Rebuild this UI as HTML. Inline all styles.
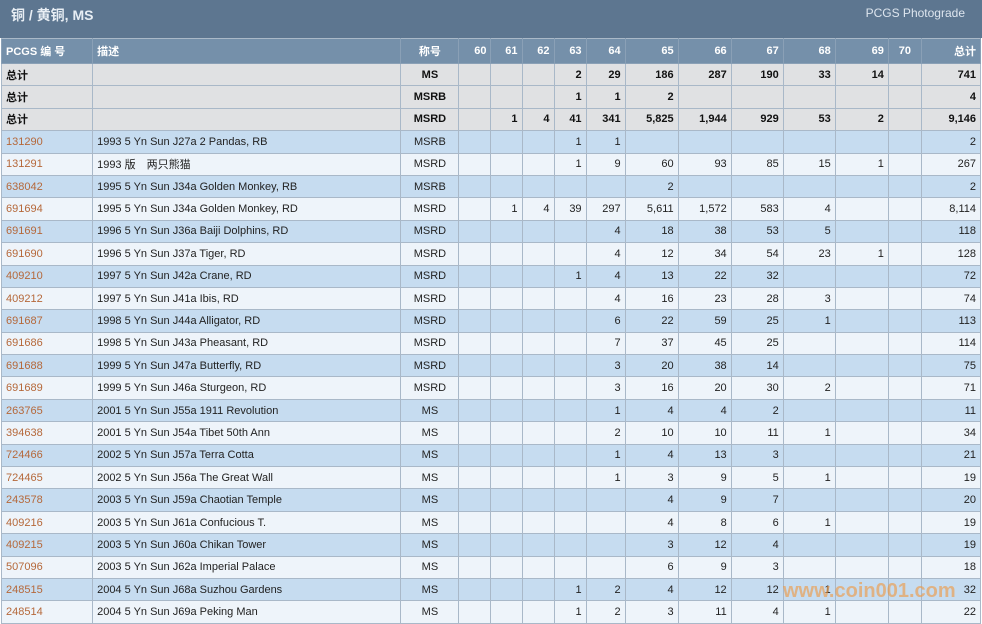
<!DOCTYPE html>
<html><head><meta charset="utf-8"><style>
*{margin:0;padding:0;box-sizing:border-box}
body{width:982px;height:624px;overflow:hidden;background:#fff;font-family:"Liberation Sans","Noto Sans CJK SC",sans-serif;font-size:11px;color:#222;position:relative}
.top{position:absolute;left:0;top:0;width:982px;height:38px;background:#5d7690}
.top .t{position:absolute;left:11px;top:5px;color:#e8eef4;font-size:14px;font-weight:bold}
.top .r{position:absolute;right:17px;top:6px;color:#dde5ee;font-size:12px}
table{position:absolute;left:1px;top:38px;border-collapse:collapse;table-layout:fixed;width:980px}
td,th{border:1px solid #a9b8c8;padding:0 4px;white-space:nowrap;overflow:hidden}
th{background:#7590aa;color:#fff;font-weight:bold;height:25px;text-align:right;border-color:#8aa0b6;border-top:1px solid #aab9c8}
tr{height:22.4px}
td{text-align:right}
td.c{text-align:center}
td.l,th.l{text-align:left}
th.c{text-align:center}
tr.tot td{background:#e0e1e3;font-weight:bold;color:#111}
tr.o td{background:#c6dcf0}
tr.e td{background:#eef4fa}
tr.o td,tr.e td{color:#222}
tr.o td.id,tr.e td.id{color:#b5683a;text-align:left}
.wm{position:absolute;left:783px;top:580px;font-size:20px;font-weight:bold;color:rgba(240,150,60,.6)}
</style></head><body>
<div class="top"><span class="t">铜 / 黄铜, MS</span><span class="r">PCGS Photograde</span></div>
<table>
<colgroup><col style="width:91px"><col style="width:308px"><col style="width:58px"><col style="width:32px"><col style="width:31px"><col style="width:32px"><col style="width:32px"><col style="width:39px"><col style="width:53px"><col style="width:53px"><col style="width:52px"><col style="width:52px"><col style="width:53px"><col style="width:33px"><col style="width:59px"></colgroup>
<tr><th class="l">PCGS 编 号</th><th class="l">描述</th><th class="c">称号</th><th>60</th><th>61</th><th>62</th><th>63</th><th>64</th><th>65</th><th>66</th><th>67</th><th>68</th><th>69</th><th class="c">70</th><th>总计</th></tr>
<tr class="tot"><td class="l">总计</td><td></td><td class="c">MS</td><td></td><td></td><td></td><td>2</td><td>29</td><td>186</td><td>287</td><td>190</td><td>33</td><td>14</td><td></td><td>741</td></tr>
<tr class="tot"><td class="l">总计</td><td></td><td class="c">MSRB</td><td></td><td></td><td></td><td>1</td><td>1</td><td>2</td><td></td><td></td><td></td><td></td><td></td><td>4</td></tr>
<tr class="tot"><td class="l">总计</td><td></td><td class="c">MSRD</td><td></td><td>1</td><td>4</td><td>41</td><td>341</td><td>5,825</td><td>1,944</td><td>929</td><td>53</td><td>2</td><td></td><td>9,146</td></tr>
<tr class="o"><td class="id">131290</td><td class="l">1993 5 Yn Sun J27a 2 Pandas, RB</td><td class="c">MSRB</td><td></td><td></td><td></td><td>1</td><td>1</td><td></td><td></td><td></td><td></td><td></td><td></td><td>2</td></tr>
<tr class="e"><td class="id">131291</td><td class="l">1993 版　两只熊猫</td><td class="c">MSRD</td><td></td><td></td><td></td><td>1</td><td>9</td><td>60</td><td>93</td><td>85</td><td>15</td><td>1</td><td></td><td>267</td></tr>
<tr class="o"><td class="id">638042</td><td class="l">1995 5 Yn Sun J34a Golden Monkey, RB</td><td class="c">MSRB</td><td></td><td></td><td></td><td></td><td></td><td>2</td><td></td><td></td><td></td><td></td><td></td><td>2</td></tr>
<tr class="e"><td class="id">691694</td><td class="l">1995 5 Yn Sun J34a Golden Monkey, RD</td><td class="c">MSRD</td><td></td><td>1</td><td>4</td><td>39</td><td>297</td><td>5,611</td><td>1,572</td><td>583</td><td>4</td><td></td><td></td><td>8,114</td></tr>
<tr class="o"><td class="id">691691</td><td class="l">1996 5 Yn Sun J36a Baiji Dolphins, RD</td><td class="c">MSRD</td><td></td><td></td><td></td><td></td><td>4</td><td>18</td><td>38</td><td>53</td><td>5</td><td></td><td></td><td>118</td></tr>
<tr class="e"><td class="id">691690</td><td class="l">1996 5 Yn Sun J37a Tiger, RD</td><td class="c">MSRD</td><td></td><td></td><td></td><td></td><td>4</td><td>12</td><td>34</td><td>54</td><td>23</td><td>1</td><td></td><td>128</td></tr>
<tr class="o"><td class="id">409210</td><td class="l">1997 5 Yn Sun J42a Crane, RD</td><td class="c">MSRD</td><td></td><td></td><td></td><td>1</td><td>4</td><td>13</td><td>22</td><td>32</td><td></td><td></td><td></td><td>72</td></tr>
<tr class="e"><td class="id">409212</td><td class="l">1997 5 Yn Sun J41a Ibis, RD</td><td class="c">MSRD</td><td></td><td></td><td></td><td></td><td>4</td><td>16</td><td>23</td><td>28</td><td>3</td><td></td><td></td><td>74</td></tr>
<tr class="o"><td class="id">691687</td><td class="l">1998 5 Yn Sun J44a Alligator, RD</td><td class="c">MSRD</td><td></td><td></td><td></td><td></td><td>6</td><td>22</td><td>59</td><td>25</td><td>1</td><td></td><td></td><td>113</td></tr>
<tr class="e"><td class="id">691686</td><td class="l">1998 5 Yn Sun J43a Pheasant, RD</td><td class="c">MSRD</td><td></td><td></td><td></td><td></td><td>7</td><td>37</td><td>45</td><td>25</td><td></td><td></td><td></td><td>114</td></tr>
<tr class="o"><td class="id">691688</td><td class="l">1999 5 Yn Sun J47a Butterfly, RD</td><td class="c">MSRD</td><td></td><td></td><td></td><td></td><td>3</td><td>20</td><td>38</td><td>14</td><td></td><td></td><td></td><td>75</td></tr>
<tr class="e"><td class="id">691689</td><td class="l">1999 5 Yn Sun J46a Sturgeon, RD</td><td class="c">MSRD</td><td></td><td></td><td></td><td></td><td>3</td><td>16</td><td>20</td><td>30</td><td>2</td><td></td><td></td><td>71</td></tr>
<tr class="o"><td class="id">263765</td><td class="l">2001 5 Yn Sun J55a 1911 Revolution</td><td class="c">MS</td><td></td><td></td><td></td><td></td><td>1</td><td>4</td><td>4</td><td>2</td><td></td><td></td><td></td><td>11</td></tr>
<tr class="e"><td class="id">394638</td><td class="l">2001 5 Yn Sun J54a Tibet 50th Ann</td><td class="c">MS</td><td></td><td></td><td></td><td></td><td>2</td><td>10</td><td>10</td><td>11</td><td>1</td><td></td><td></td><td>34</td></tr>
<tr class="o"><td class="id">724466</td><td class="l">2002 5 Yn Sun J57a Terra Cotta</td><td class="c">MS</td><td></td><td></td><td></td><td></td><td>1</td><td>4</td><td>13</td><td>3</td><td></td><td></td><td></td><td>21</td></tr>
<tr class="e"><td class="id">724465</td><td class="l">2002 5 Yn Sun J56a The Great Wall</td><td class="c">MS</td><td></td><td></td><td></td><td></td><td>1</td><td>3</td><td>9</td><td>5</td><td>1</td><td></td><td></td><td>19</td></tr>
<tr class="o"><td class="id">243578</td><td class="l">2003 5 Yn Sun J59a Chaotian Temple</td><td class="c">MS</td><td></td><td></td><td></td><td></td><td></td><td>4</td><td>9</td><td>7</td><td></td><td></td><td></td><td>20</td></tr>
<tr class="e"><td class="id">409216</td><td class="l">2003 5 Yn Sun J61a Confucious T.</td><td class="c">MS</td><td></td><td></td><td></td><td></td><td></td><td>4</td><td>8</td><td>6</td><td>1</td><td></td><td></td><td>19</td></tr>
<tr class="o"><td class="id">409215</td><td class="l">2003 5 Yn Sun J60a Chikan Tower</td><td class="c">MS</td><td></td><td></td><td></td><td></td><td></td><td>3</td><td>12</td><td>4</td><td></td><td></td><td></td><td>19</td></tr>
<tr class="e"><td class="id">507096</td><td class="l">2003 5 Yn Sun J62a Imperial Palace</td><td class="c">MS</td><td></td><td></td><td></td><td></td><td></td><td>6</td><td>9</td><td>3</td><td></td><td></td><td></td><td>18</td></tr>
<tr class="o"><td class="id">248515</td><td class="l">2004 5 Yn Sun J68a Suzhou Gardens</td><td class="c">MS</td><td></td><td></td><td></td><td>1</td><td>2</td><td>4</td><td>12</td><td>12</td><td>1</td><td></td><td></td><td>32</td></tr>
<tr class="e"><td class="id">248514</td><td class="l">2004 5 Yn Sun J69a Peking Man</td><td class="c">MS</td><td></td><td></td><td></td><td>1</td><td>2</td><td>3</td><td>11</td><td>4</td><td>1</td><td></td><td></td><td>22</td></tr>
</table>
<div class="wm">www.coin001.com</div>
</body></html>
